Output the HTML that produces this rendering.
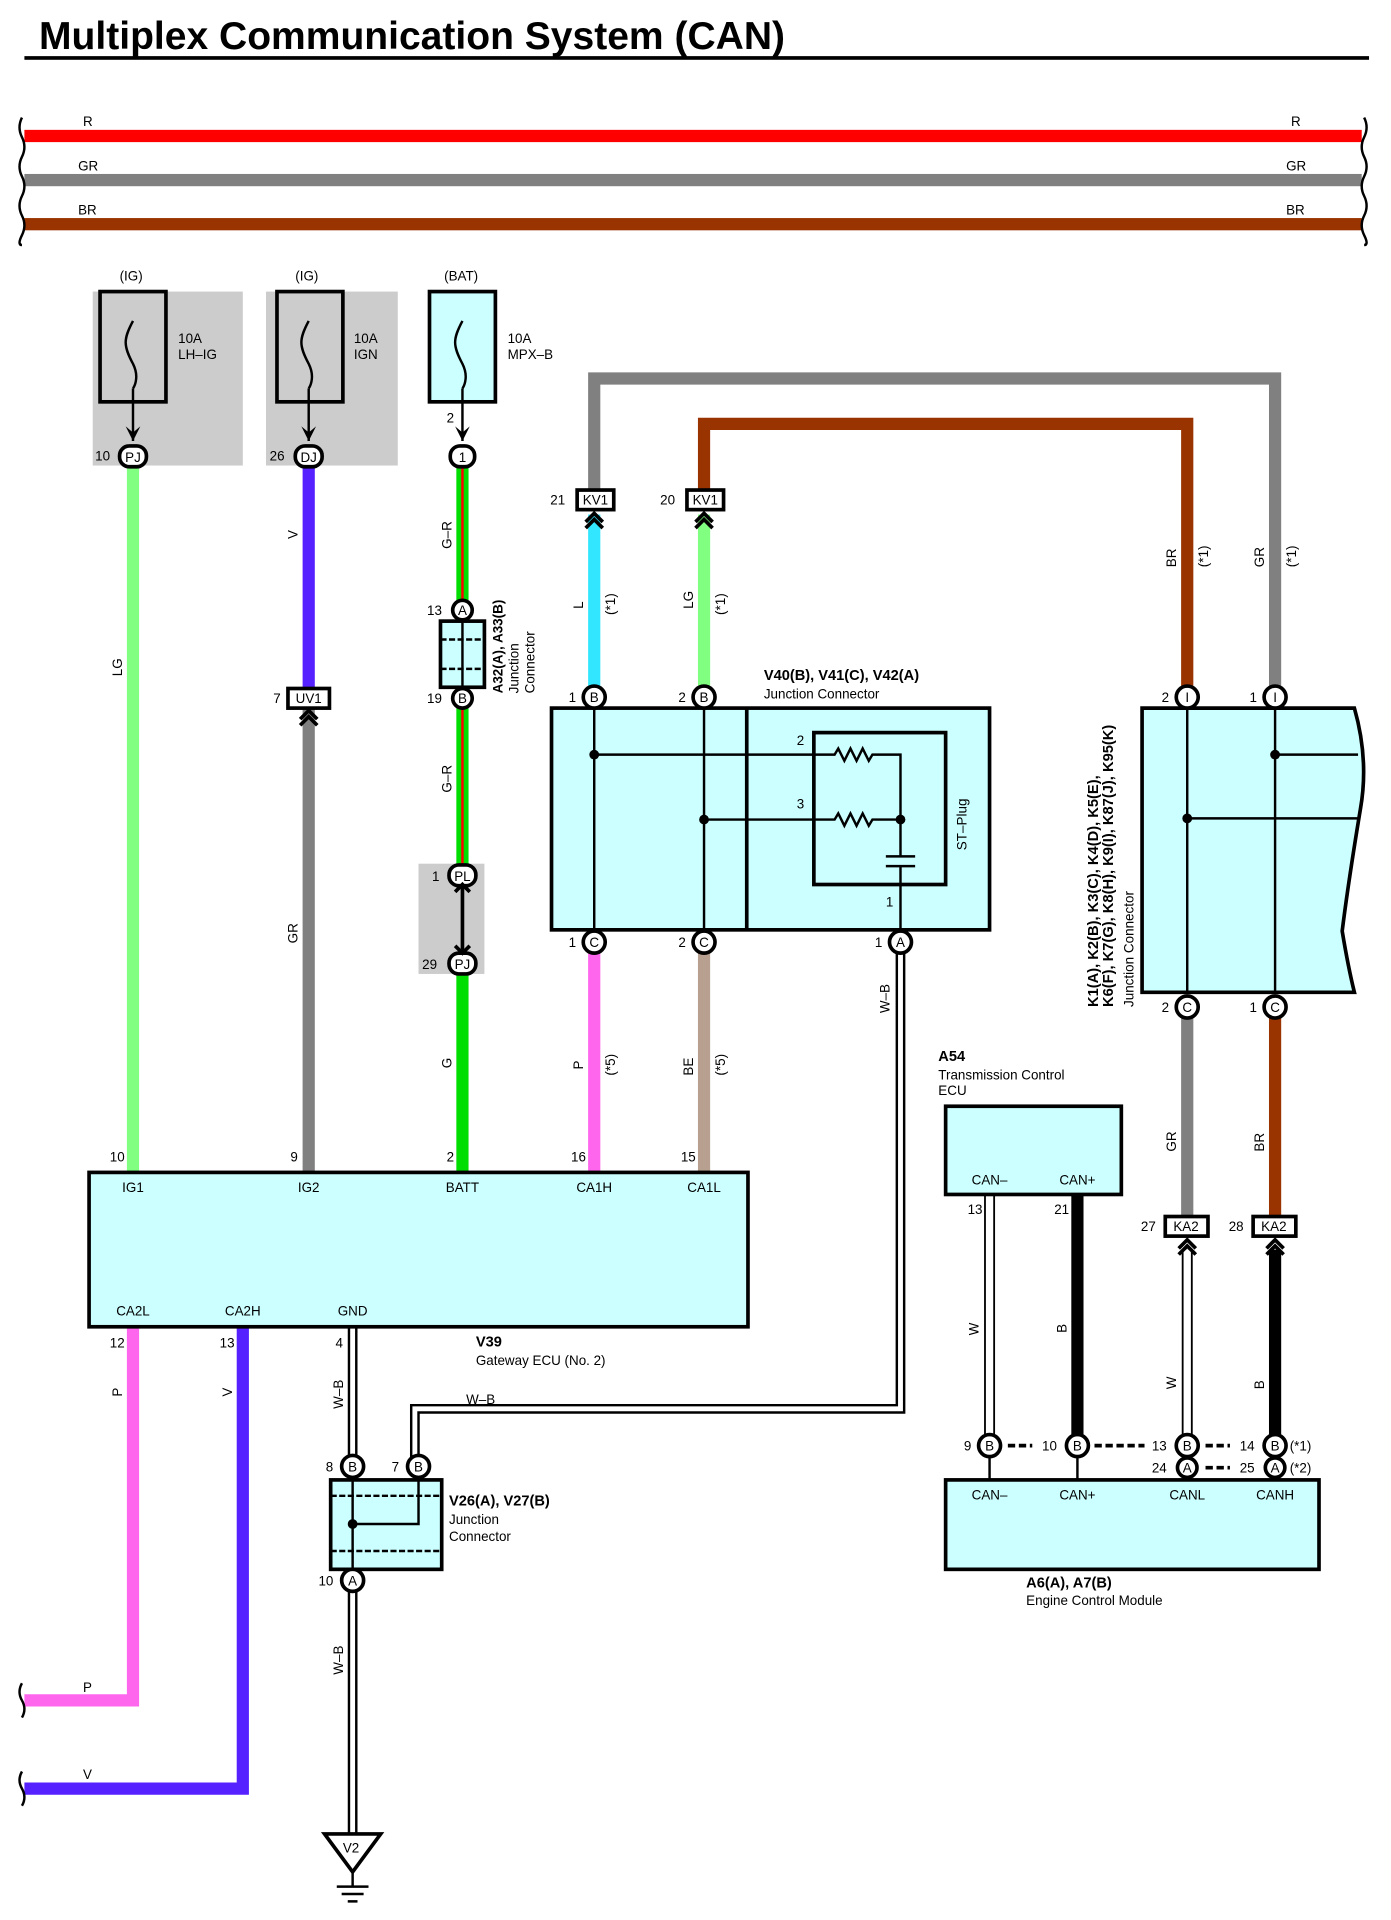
<!DOCTYPE html>
<html><head><meta charset="utf-8"><style>
html,body{margin:0;padding:0;background:#fff;}
svg{display:block;}
text{font-family:"Liberation Sans",sans-serif;font-size:11px;fill:#000;}
.b{font-weight:bold;font-size:12px;}
</style></head><body>
<svg width="1391" height="1920" viewBox="0 0 1140 1573.5" preserveAspectRatio="none" xmlns="http://www.w3.org/2000/svg">
<defs>
<g id="chev"><path d="M-7,6 L0,-1 L7,6 M-7,11 L0,4 L7,11" fill="none" stroke="#000" stroke-width="3"/></g>
</defs>
<text x="32" y="40" style="font-size:32px;font-weight:bold">Multiplex Communication System (CAN)</text>
<rect x="20" y="46" width="1102" height="3" fill="#000"/>
<g transform="scale(1,1.004)">
<!-- top wires -->
<rect x="20" y="106" width="1096" height="10" fill="#f00"/>
<rect x="20" y="142" width="1096" height="10" fill="#808080"/>
<rect x="20" y="178" width="1096" height="10" fill="#993300"/>
<path d="M18,96 q-4,8 0,16 q4,8 0,16 q-4,8 0,16 q4,8 0,16 q-4,8 0,16 q4,8 0,16 q-4,8 0,8 M1118,96 q4,8 0,16 q-4,8 0,16 q4,8 0,16 q-4,8 0,16 q4,8 0,16 q-4,8 0,16 q4,8 0,8" fill="none" stroke="#000" stroke-width="2"/>
<text x="68" y="103">R</text><text x="1058" y="103">R</text>
<text x="64" y="139">GR</text><text x="1054" y="139">GR</text>
<text x="64" y="175">BR</text><text x="1054" y="175">BR</text>
<!-- fuses -->
<rect x="76" y="238" width="123" height="142" fill="#ccc"/>
<rect x="218" y="238" width="108" height="142" fill="#ccc"/>
<rect x="343" y="705" width="54" height="90" fill="#ccc"/>
<rect x="82" y="238" width="54" height="90" fill="none" stroke="#000" stroke-width="3"/>
<rect x="227" y="238" width="54" height="90" fill="none" stroke="#000" stroke-width="3"/>
<rect x="352" y="238" width="54" height="90" fill="#ccffff" stroke="#000" stroke-width="3"/>
<g fill="none" stroke="#000" stroke-width="2">
<path d="M109,262 c-8,15 -8,20 0,35 c6,12 0,20 0,20"/><path d="M253,262 c-8,15 -8,20 0,35 c6,12 0,20 0,20"/><path d="M379,262 c-8,15 -8,20 0,35 c6,12 0,20 0,20"/>
<path d="M109,317 V360 M253,317 V360 M379,317 V360"/>
</g>
<g fill="#000"><path d="M103,348 l6,12 l6,-12 l-6,5z"/><path d="M247,348 l6,12 l6,-12 l-6,5z"/><path d="M373,348 l6,12 l6,-12 l-6,5z"/></g>
<text x="98" y="229">(IG)</text><text x="242" y="229">(IG)</text><text x="364" y="229">(BAT)</text>
<text x="146" y="280">10A</text><text x="146" y="293">LH–IG</text>
<text x="290" y="280">10A</text><text x="290" y="293">IGN</text>
<text x="416" y="280">10A</text><text x="416" y="293">MPX–B</text>
<!-- wires -->
<rect x="104" y="380" width="10" height="577" fill="#80ff80"/>
<rect x="248" y="380" width="10" height="182" fill="#5522ff"/>
<rect x="248" y="578" width="10" height="379" fill="#808080"/>
<rect x="374" y="380" width="10" height="325" fill="#00dd00"/><rect x="378" y="380" width="2" height="325" fill="#f00"/>
<rect x="374" y="795" width="10" height="162" fill="#00dd00"/>
<path d="M487,400 V309 H1045 V562" fill="none" stroke="#808080" stroke-width="10"/>
<path d="M577,400 V346 H973 V562" fill="none" stroke="#993300" stroke-width="10"/>
<rect x="482" y="420" width="10" height="142" fill="#33e6ff"/>
<rect x="572" y="420" width="10" height="142" fill="#80ff80"/>
<rect x="482" y="776" width="10" height="181" fill="#ff66ee"/>
<rect x="572" y="776" width="10" height="181" fill="#b8a090"/>
<rect x="968" y="830" width="10" height="162" fill="#808080"/>
<rect x="1040" y="830" width="10" height="162" fill="#993300"/>
<path d="M109,1083 V1388 H20" fill="none" stroke="#ff66ee" stroke-width="10"/>
<path d="M199,1083 V1460 H20" fill="none" stroke="#5522ff" stroke-width="10"/>
<path d="M18,1374 q-4,7 0,14 q4,7 0,14 M18,1446 q-4,7 0,14 q4,7 0,14" fill="none" stroke="#000" stroke-width="2"/>
<text x="68" y="1381">P</text><text x="68" y="1452">V</text>
<!-- double wires -->
<g fill="none">
<path d="M738,778 V1150 H340 V1190" stroke="#000" stroke-width="8"/>
<path d="M738,778 V1150 H340 V1190" stroke="#fff" stroke-width="4"/>
<path d="M289,1083 V1190" stroke="#000" stroke-width="8"/><path d="M289,1083 V1190" stroke="#fff" stroke-width="4"/>
<path d="M289,1298 V1500" stroke="#000" stroke-width="8"/><path d="M289,1298 V1500" stroke="#fff" stroke-width="4"/>
<path d="M811,975 V1172" stroke="#000" stroke-width="9"/><path d="M811,975 V1172" stroke="#fff" stroke-width="6"/>
<path d="M973,1020 V1172" stroke="#000" stroke-width="9"/><path d="M973,1020 V1172" stroke="#fff" stroke-width="6"/>
<path d="M883,975 V1172 M1045,1020 V1172" stroke="#000" stroke-width="10"/>
</g>
<!-- ground -->
<path d="M266,1497 H312 L289,1528 Z" fill="#fff" stroke="#000" stroke-width="3"/>
<text x="281" y="1512">V2</text>
<path d="M289,1528 V1540 M276,1540 H302 M280,1546 H298 M285,1552 H293" stroke="#000" stroke-width="2"/>
<!-- A32 junction -->
<rect x="361" y="507" width="36" height="54" fill="#ccffff" stroke="#000" stroke-width="3"/>
<path d="M361,522 H397 M361,546 H397" stroke="#000" stroke-width="2" stroke-dasharray="5,2"/>
<path d="M379,507 V561" stroke="#000" stroke-width="2"/>
<text transform="translate(412,566) rotate(-90)" class="b" style="font-size:11px">A32(A), A33(B)</text>
<text transform="translate(425,566) rotate(-90)">Junction</text>
<text transform="translate(438,566) rotate(-90)">Connector</text>
<!-- V40 junction -->
<rect x="452" y="578" width="359" height="181" fill="#ccffff" stroke="#000" stroke-width="3"/>
<path d="M612,578 V759" stroke="#000" stroke-width="3"/>
<rect x="667" y="598" width="108" height="124" fill="none" stroke="#000" stroke-width="3"/>
<g stroke="#000" stroke-width="2" fill="none">
<path d="M487,578 V759 M577,578 V759"/>
<path d="M487,616 H684 l3,-5 l5,10 l5,-10 l5,10 l5,-10 l5,10 l3,-5 H738 V699 M577,669 H684 l3,-5 l5,10 l5,-10 l5,10 l5,-10 l5,10 l3,-5 H738"/>
<path d="M738,707 V759 M726,699 H750 M726,707 H750"/>
</g>
<g fill="#000"><circle cx="487" cy="616" r="4"/><circle cx="577" cy="669" r="4"/><circle cx="738" cy="669" r="4"/></g>
<text x="653" y="608">2</text><text x="653" y="660">3</text><text x="726" y="740">1</text>
<text transform="translate(792,694) rotate(-90)">ST–Plug</text>
<text x="626" y="555" class="b">V40(B), V41(C), V42(A)</text>
<text x="626" y="570">Junction Connector</text>
<!-- K junction -->
<path d="M936,578 H1110 Q1122,620 1115,660 Q1105,720 1100,760 Q1105,790 1110,810 H936 Z" fill="#ccffff" stroke="#000" stroke-width="3"/>
<g stroke="#000" stroke-width="2"><path d="M973,578 V810 M1045,578 V810 M1045,616 H1113 M973,668 H1113"/></g>
<g fill="#000"><circle cx="1045" cy="616" r="4"/><circle cx="973" cy="668" r="4"/></g>
<text transform="translate(900,822) rotate(-90)" class="b">K1(A), K2(B), K3(C), K4(D), K5(E),</text>
<text transform="translate(912,822) rotate(-90)" class="b">K6(F), K7(G), K8(H), K9(I), K87(J), K95(K)</text>
<text transform="translate(929,822) rotate(-90)">Junction Connector</text>
<!-- gateway ECU -->
<rect x="73" y="957" width="540" height="126" fill="#ccffff" stroke="#000" stroke-width="3"/>
<g text-anchor="middle">
<text x="109" y="973">IG1</text><text x="253" y="973">IG2</text><text x="379" y="973">BATT</text><text x="487" y="973">CA1H</text><text x="577" y="973">CA1L</text>
<text x="109" y="1074">CA2L</text><text x="199" y="1074">CA2H</text><text x="289" y="1074">GND</text>
</g>
<text x="90" y="948">10</text><text x="238" y="948">9</text><text x="366" y="948">2</text><text x="468" y="948">16</text><text x="558" y="948">15</text>
<text x="90" y="1100">12</text><text x="180" y="1100">13</text><text x="275" y="1100">4</text>
<text x="390" y="1099" class="b">V39</text>
<text x="390" y="1114">Gateway ECU (No. 2)</text>
<!-- V26 junction -->
<rect x="271" y="1208" width="91" height="73" fill="#ccffff" stroke="#000" stroke-width="3"/>
<path d="M271,1221 H362 M271,1266 H362" stroke="#000" stroke-width="2" stroke-dasharray="5,2"/>
<path d="M289,1208 V1290 M343,1208 V1244 H289" stroke="#000" stroke-width="2" fill="none"/>
<circle cx="289" cy="1244" r="4"/>
<text x="368" y="1229" class="b">V26(A), V27(B)</text>
<text x="368" y="1244">Junction</text><text x="368" y="1258">Connector</text>
<!-- A54 -->
<rect x="775" y="903" width="144" height="72" fill="#ccffff" stroke="#000" stroke-width="3"/>
<text x="811" y="967" text-anchor="middle">CAN–</text><text x="883" y="967" text-anchor="middle">CAN+</text>
<text x="769" y="866" class="b">A54</text>
<text x="769" y="881">Transmission Control</text><text x="769" y="894">ECU</text>
<text x="793" y="991">13</text><text x="864" y="991">21</text>
<!-- ECM -->
<rect x="775" y="1208" width="306" height="73" fill="#ccffff" stroke="#000" stroke-width="3"/>
<g text-anchor="middle"><text x="811" y="1224">CAN–</text><text x="883" y="1224">CAN+</text><text x="973" y="1224">CANL</text><text x="1045" y="1224">CANH</text></g>
<path d="M811,1188 V1208 M883,1188 V1208" stroke="#000" stroke-width="2"/>
<path d="M826,1180 H846 M897,1180 H938 M988,1180 H1008 M988,1198 H1008" stroke="#000" stroke-width="3" stroke-dasharray="6,3"/>
<text x="841" y="1296" class="b">A6(A), A7(B)</text>
<text x="841" y="1310">Engine Control Module</text>
<!-- pins -->
<g stroke="#000" stroke-width="3" fill="#fff">
<rect x="98" y="364" width="22" height="17" rx="8"/><rect x="242" y="364" width="22" height="17" rx="8"/><rect x="369" y="364" width="20" height="17" rx="8"/>
<circle cx="379" cy="498" r="8"/><circle cx="379" cy="570" r="8"/>
<rect x="368" y="706" width="22" height="17" rx="8"/><rect x="368" y="778" width="22" height="17" rx="8"/>
<circle cx="487" cy="569" r="9"/><circle cx="577" cy="569" r="9"/><circle cx="487" cy="769" r="9"/><circle cx="577" cy="769" r="9"/><circle cx="738" cy="769" r="9"/>
<circle cx="973" cy="569" r="9"/><circle cx="1045" cy="569" r="9"/><circle cx="973" cy="822" r="9"/><circle cx="1045" cy="822" r="9"/>
<circle cx="289" cy="1197" r="9"/><circle cx="343" cy="1197" r="9"/><circle cx="289" cy="1290" r="9"/>
<circle cx="811" cy="1180" r="9"/><circle cx="883" cy="1180" r="9"/><circle cx="973" cy="1180" r="9"/><circle cx="1045" cy="1180" r="9"/><circle cx="973" cy="1198" r="8"/><circle cx="1045" cy="1198" r="8"/>
</g>
<g text-anchor="middle">
<text x="109" y="377">PJ</text><text x="253" y="377">DJ</text><text x="379" y="377">1</text>
<text x="379" y="502">A</text><text x="379" y="574">B</text><text x="379" y="719">PL</text><text x="379" y="791">PJ</text>
<text x="487" y="573">B</text><text x="577" y="573">B</text><text x="487" y="773">C</text><text x="577" y="773">C</text><text x="738" y="773">A</text>
<text x="973" y="573">I</text><text x="1045" y="573">I</text><text x="973" y="826">C</text><text x="1045" y="826">C</text>
<text x="289" y="1201">B</text><text x="343" y="1201">B</text><text x="289" y="1294">A</text>
<text x="811" y="1184">B</text><text x="883" y="1184">B</text><text x="973" y="1184">B</text><text x="1045" y="1184">B</text><text x="973" y="1202">A</text><text x="1045" y="1202">A</text>
</g>
<g>
<text x="78" y="376">10</text><text x="221" y="376">26</text><text x="366" y="345">2</text>
<text x="350" y="502">13</text><text x="350" y="574">19</text><text x="354" y="719">1</text><text x="346" y="791">29</text>
<text x="466" y="573">1</text><text x="556" y="573">2</text><text x="466" y="773">1</text><text x="556" y="773">2</text><text x="717" y="773">1</text>
<text x="952" y="573">2</text><text x="1024" y="573">1</text><text x="952" y="826">2</text><text x="1024" y="826">1</text>
<text x="267" y="1201">8</text><text x="321" y="1201">7</text><text x="261" y="1294">10</text>
<text x="790" y="1184">9</text><text x="854" y="1184">10</text><text x="944" y="1184">13</text><text x="1016" y="1184">14</text><text x="944" y="1202">24</text><text x="1016" y="1202">25</text>
<text x="1057" y="1184">(*1)</text><text x="1057" y="1202">(*2)</text>
</g>
<path d="M379,723 V778" stroke="#000" stroke-width="3"/>
<path d="M373,728 l6,-6 l6,6 M373,772 l6,6 l6,-6" stroke="#000" stroke-width="3" fill="none"/>
<g stroke="#000" stroke-width="3" fill="#fff">
<rect x="473" y="400" width="30" height="16"/><rect x="563" y="400" width="30" height="16"/>
<rect x="236" y="562" width="34" height="16"/>
<rect x="955" y="993" width="35" height="16"/><rect x="1027" y="993" width="35" height="16"/>
</g>
<g text-anchor="middle"><text x="488" y="412">KV1</text><text x="578" y="412">KV1</text><text x="253" y="574">UV1</text><text x="972" y="1005">KA2</text><text x="1044" y="1005">KA2</text></g>
<text x="451" y="412">21</text><text x="541" y="412">20</text><text x="224" y="574">7</text><text x="935" y="1005">27</text><text x="1007" y="1005">28</text>
<use href="#chev" x="487" y="420"/><use href="#chev" x="577" y="420"/><use href="#chev" x="253" y="581"/><use href="#chev" x="973" y="1013"/><use href="#chev" x="1045" y="1013"/>
<g>
<text transform="translate(100,552) rotate(-90)">LG</text>
<text transform="translate(244,440) rotate(-90)">V</text>
<text transform="translate(244,770) rotate(-90)">GR</text>
<text transform="translate(370,448) rotate(-90)">G–R</text>
<text transform="translate(370,647) rotate(-90)">G–R</text>
<text transform="translate(370,872) rotate(-90)">G</text>
<text transform="translate(478,497) rotate(-90)">L</text><text transform="translate(504,502) rotate(-90)">(*1)</text>
<text transform="translate(568,497) rotate(-90)">LG</text><text transform="translate(594,502) rotate(-90)">(*1)</text>
<text transform="translate(478,873) rotate(-90)">P</text><text transform="translate(504,878) rotate(-90)">(*5)</text>
<text transform="translate(568,878) rotate(-90)">BE</text><text transform="translate(594,878) rotate(-90)">(*5)</text>
<text transform="translate(729,827) rotate(-90)">W–B</text>
<text transform="translate(964,463) rotate(-90)">BR</text><text transform="translate(990,463) rotate(-90)">(*1)</text>
<text transform="translate(1036,463) rotate(-90)">GR</text><text transform="translate(1062,463) rotate(-90)">(*1)</text>
<text transform="translate(964,940) rotate(-90)">GR</text>
<text transform="translate(1036,940) rotate(-90)">BR</text>
<text transform="translate(802,1090) rotate(-90)">W</text>
<text transform="translate(874,1088) rotate(-90)">B</text>
<text transform="translate(964,1134) rotate(-90)">W</text>
<text transform="translate(1036,1134) rotate(-90)">B</text>
<text transform="translate(100,1140) rotate(-90)">P</text>
<text transform="translate(190,1140) rotate(-90)">V</text>
<text transform="translate(281,1150) rotate(-90)">W–B</text>
<text transform="translate(281,1367) rotate(-90)">W–B</text>
</g>
<text x="382" y="1146">W–B</text>
</g>
</svg>
</body></html>
